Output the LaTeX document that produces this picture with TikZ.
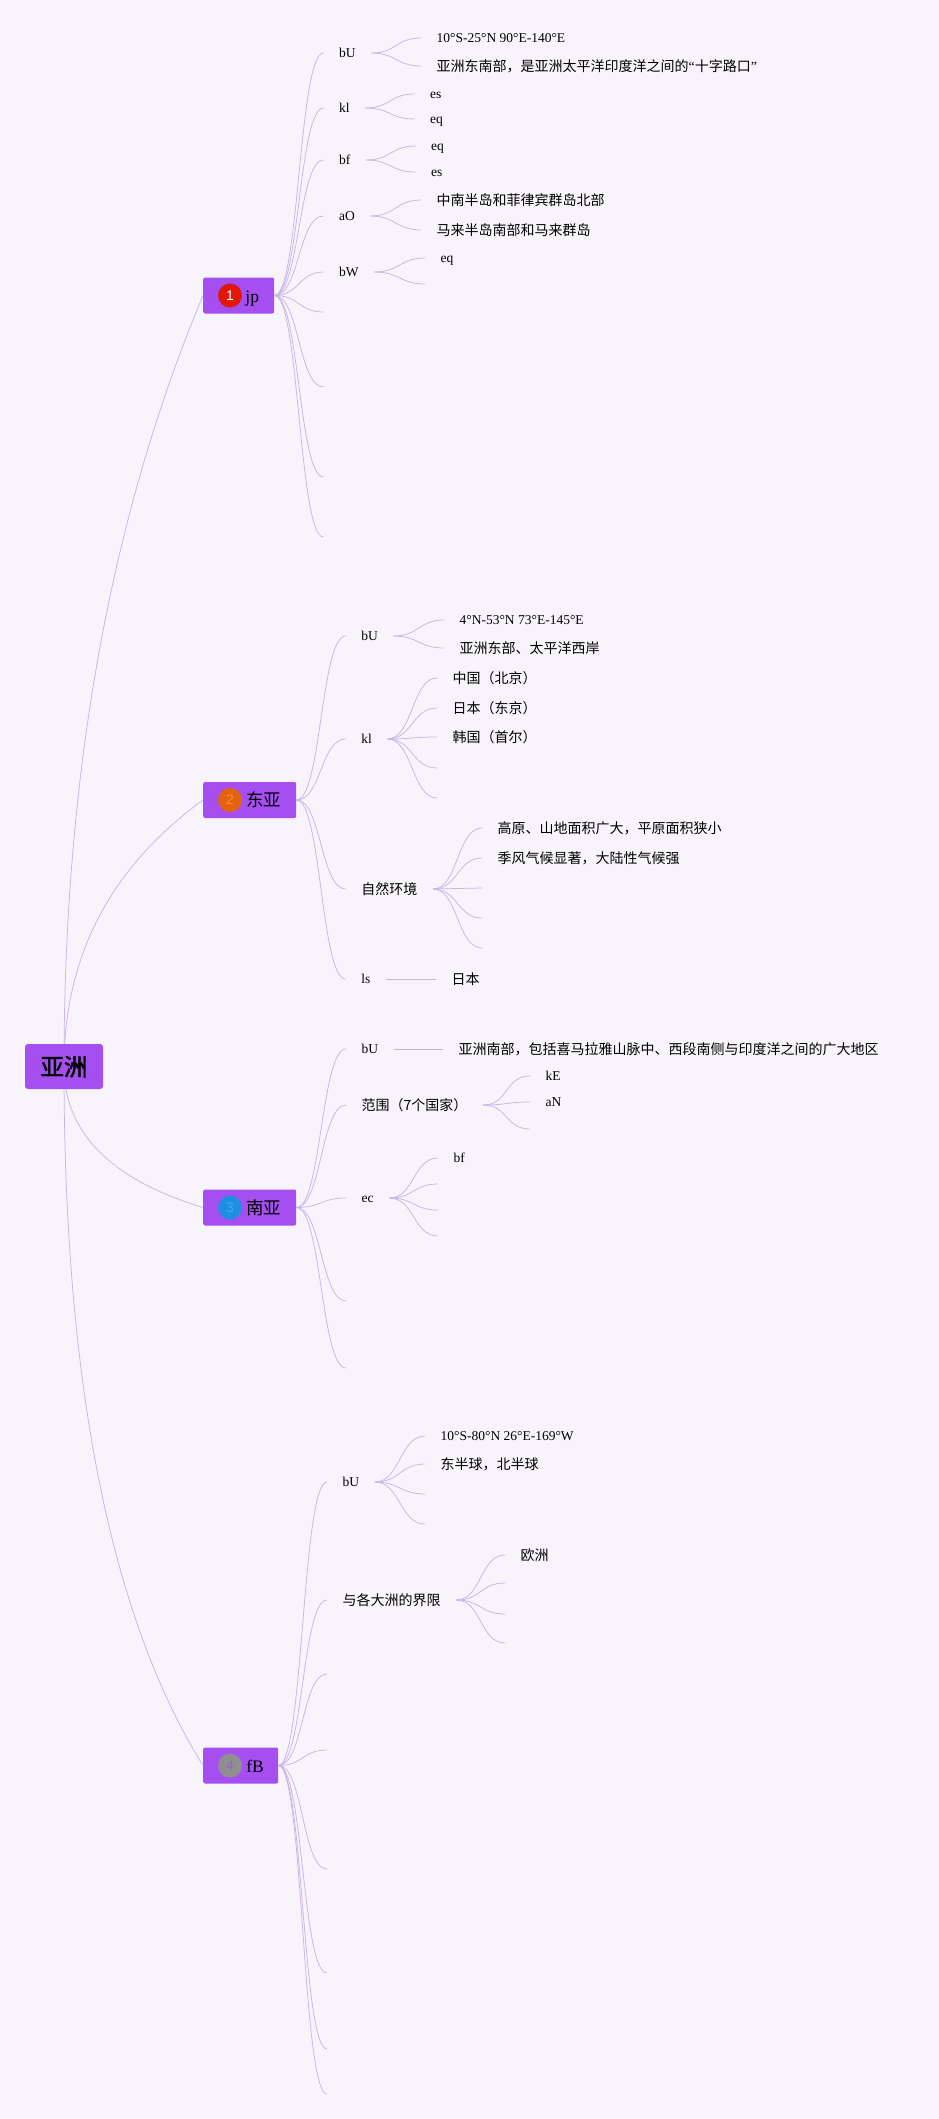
\documentclass[tikz,border=0pt]{standalone}
\usepackage{fontspec}
\setmainfont{Liberation Serif}
\newfontfamily\cjk{Noto Sans CJK SC}[AutoFakeBold=2]
\newfontfamily\ziffer{Liberation Sans}
\usetikzlibrary{calc}

\definecolor{grund}{HTML}{F8F4FC}
\definecolor{lila}{HTML}{A54FF0}
\definecolor{astfarbe}{HTML}{C8B5E6}
\definecolor{rot}{HTML}{E0180C}
\definecolor{orangeA}{HTML}{E5620E}
\definecolor{orangeB}{HTML}{F28B43}
\definecolor{blauA}{HTML}{1E8EE0}
\definecolor{blauB}{HTML}{45A6EE}
\definecolor{grauA}{HTML}{8F8F8F}
\definecolor{grauB}{HTML}{9A5BE0}

\newcommand\qa{{\rmfamily “}}
\newcommand\qe{{\rmfamily ”}}

\begin{document}
\begin{tikzpicture}[x=1pt,y=-1pt,
        ast/.style={draw=astfarbe,line width=0.75pt},
        kurve/.style={to path={.. controls +(25,0) and +(-25,0) .. (\tikztotarget)}},
        wurzel/.style={fill=lila,rounded corners=3pt,minimum width=78pt,minimum height=45pt,inner sep=0pt,
            text height=19pt,text depth=1pt,font=\cjk\bfseries\fontsize{23.5}{24}\selectfont},
        haupt/.style={fill=lila,rounded corners=2pt,minimum height=36pt,inner sep=0pt,anchor=west},
        punkt/.style={circle,inner sep=0pt,minimum size=24pt,font=\ziffer\fontsize{14}{14}\selectfont},
        htext/.style={anchor=west,inner sep=0pt,text height=14pt,text depth=1pt,font=\fontsize{17.5}{18}\selectfont},
        lat/.style={anchor=west,inner xsep=15.5pt,inner ysep=0pt,text height=10pt,text depth=1pt,
            font=\fontsize{13.5}{16}\selectfont},
        zh/.style={lat,text height=11.5pt,font=\cjk\fontsize{14}{16}\selectfont},
    ]
    \path[use as bounding box,fill=grund] (0,0) rectangle (939,2119);

    % Hauptzweige
    \node[haupt,minimum width=71pt] (jp) at (203,295.5) {};
    \node[punkt,fill=rot,text=white] (jpP) at ([xshift=27pt]jp.west) {1};
    \node[htext] (jpT) at ([xshift=3pt]jpP.east) {jp};

    \node[haupt,minimum width=93pt] (ea) at (203,800) {};
    \node[punkt,fill=orangeA,text=orangeB] (eaP) at ([xshift=27pt]ea.west) {2};
    \node[htext,font=\cjk\fontsize{17.5}{18}\selectfont] (eaT) at ([xshift=4pt]eaP.east) {东亚};

    \node[haupt,minimum width=93pt] (sa) at (203,1207.5) {};
    \node[punkt,fill=blauA,text=blauB] (saP) at ([xshift=27pt]sa.west) {3};
    \node[htext,font=\cjk\fontsize{17.5}{18}\selectfont] (saT) at ([xshift=4pt]saP.east) {南亚};

    \node[haupt,minimum width=75pt] (fb) at (203,1765.5) {};
    \node[punkt,fill=grauA,text=grauB] (fbP) at ([xshift=27pt]fb.west) {4};
    \node[htext] (fbT) at ([xshift=4pt]fbP.east) {fB};

    % Wurzel
    \coordinate (w) at (64,1066.5);
    \foreach \z/\f in {jp/0.57,ea/0.62,sa/0.7,fb/0.68} {
        \coordinate (k) at ($(w)!\f!(w |- \z.west)$);
        \draw[ast] (w) .. controls ($(w)!0.667!(k)$) and ($(\z.west)!0.667!(k)$) .. (\z.west);
    }
    \node[wurzel] (asien) at (w) {亚洲};

    % jp
    \node[lat] (jpA) at (323.5,53) {bU};
    \node[lat] (jpB) at (323.5,108) {kl};
    \node[lat] (jpC) at (323.5,160) {bf};
    \node[lat] (jpD) at (323.5,216) {aO};
    \node[lat] (jpE) at (323.5,272) {bW};
    \foreach \y [count=\i] in {312,387,477,537} \node[lat] (jpL\i) at (323.5,\y) {};
    \foreach \k in {jpA,jpB,jpC,jpD,jpE,jpL1,jpL2,jpL3,jpL4} \draw[ast] (jp.east) to[kurve] (\k.west);

    \node[lat] (jpA1) at (421,38) {10°S-25°N 90°E-140°E};
    \node[zh] (jpA2) at (421,66) {亚洲东南部，是亚洲太平洋印度洋之间的\qa 十字路口\qe};
    \node[lat] (jpB1) at (414.5,94) {es};
    \node[lat] (jpB2) at (414.5,119) {eq};
    \node[lat] (jpC1) at (415.5,146) {eq};
    \node[lat] (jpC2) at (415.5,172) {es};
    \node[zh] (jpD1) at (421,200) {中南半岛和菲律宾群岛北部};
    \node[zh] (jpD2) at (421,230) {马来半岛南部和马来群岛};
    \node[lat] (jpE1) at (425,258) {eq};
    \node[lat] (jpE2) at (425,284) {};
    \foreach \a/\b in {jpA/jpA1,jpA/jpA2,jpB/jpB1,jpB/jpB2,jpC/jpC1,jpC/jpC2,jpD/jpD1,jpD/jpD2,jpE/jpE1,jpE/jpE2}
        \draw[ast] (\a.east) to[kurve] (\b.west);

    % Ostasien
    \node[lat] (eaA) at (345.7,636) {bU};
    \node[lat] (eaB) at (345.7,739) {kl};
    \node[zh] (eaC) at (345.7,889) {自然环境};
    \node[lat] (eaD) at (345.7,979) {ls};
    \foreach \k in {eaA,eaB,eaC,eaD} \draw[ast] (ea.east) to[kurve] (\k.west);

    \node[lat] (eaA1) at (444,620) {4°N-53°N 73°E-145°E};
    \node[zh] (eaA2) at (444,648) {亚洲东部、太平洋西岸};
    \node[zh] (eaB1) at (437,678) {中国（北京）};
    \node[zh] (eaB2) at (437,708) {日本（东京）};
    \node[zh] (eaB3) at (437,737) {韩国（首尔）};
    \node[lat] (eaB4) at (437,768) {};
    \node[lat] (eaB5) at (437,798) {};
    \node[zh] (eaC1) at (482,828) {高原、山地面积广大，平原面积狭小};
    \node[zh] (eaC2) at (482,858) {季风气候显著，大陆性气候强};
    \foreach \y [count=\i from 3] in {888,918,948} \node[lat] (eaC\i) at (482,\y) {};
    \node[zh] (eaD1) at (436,979) {日本};
    \foreach \a/\b in {eaA/eaA1,eaA/eaA2,eaB/eaB1,eaB/eaB2,eaB/eaB3,eaB/eaB4,eaB/eaB5,
        eaC/eaC1,eaC/eaC2,eaC/eaC3,eaC/eaC4,eaC/eaC5,eaD/eaD1}
        \draw[ast] (\a.east) to[kurve] (\b.west);

    % Suedasien
    \node[lat] (saA) at (346,1049) {bU};
    \node[zh] (saB) at (346,1105) {范围（7个国家）};
    \node[lat] (saC) at (346,1198) {ec};
    \node[lat] (saL1) at (346,1301) {};
    \node[lat] (saL2) at (346,1368) {};
    \foreach \k in {saA,saB,saC,saL1,saL2} \draw[ast] (sa.east) to[kurve] (\k.west);

    \node[zh] (saA1) at (443,1049) {亚洲南部，包括喜马拉雅山脉中、西段南侧与印度洋之间的广大地区};
    \node[lat] (saB1) at (530,1076) {kE};
    \node[lat] (saB2) at (530,1102) {aN};
    \node[lat] (saB3) at (530,1129) {};
    \node[lat] (saC1) at (438,1158) {bf};
    \foreach \y [count=\i from 2] in {1184,1210,1236} \node[lat] (saC\i) at (438,\y) {};
    \foreach \a/\b in {saA/saA1,saB/saB1,saB/saB2,saB/saB3,saC/saC1,saC/saC2,saC/saC3,saC/saC4}
        \draw[ast] (\a.east) to[kurve] (\b.west);

    % fB
    \node[lat] (fbA) at (327,1482) {bU};
    \node[zh] (fbB) at (327,1600) {与各大洲的界限};
    \foreach \y [count=\i] in {1674,1750,1869,1973,2049,2094} \node[lat] (fbL\i) at (327,\y) {};
    \foreach \k in {fbA,fbB,fbL1,fbL2,fbL3,fbL4,fbL5,fbL6} \draw[ast] (fb.east) to[kurve] (\k.west);

    \node[lat] (fbA1) at (425,1436) {10°S-80°N 26°E-169°W};
    \node[zh] (fbA2) at (425,1464) {东半球，北半球};
    \node[lat] (fbA3) at (425,1494) {};
    \node[lat] (fbA4) at (425,1524) {};
    \node[zh] (fbB1) at (505,1555) {欧洲};
    \foreach \y [count=\i from 2] in {1583,1614,1643} \node[lat] (fbB\i) at (505,\y) {};
    \foreach \a/\b in {fbA/fbA1,fbA/fbA2,fbA/fbA3,fbA/fbA4,fbB/fbB1,fbB/fbB2,fbB/fbB3,fbB/fbB4}
        \draw[ast] (\a.east) to[kurve] (\b.west);
\end{tikzpicture}
\end{document}
